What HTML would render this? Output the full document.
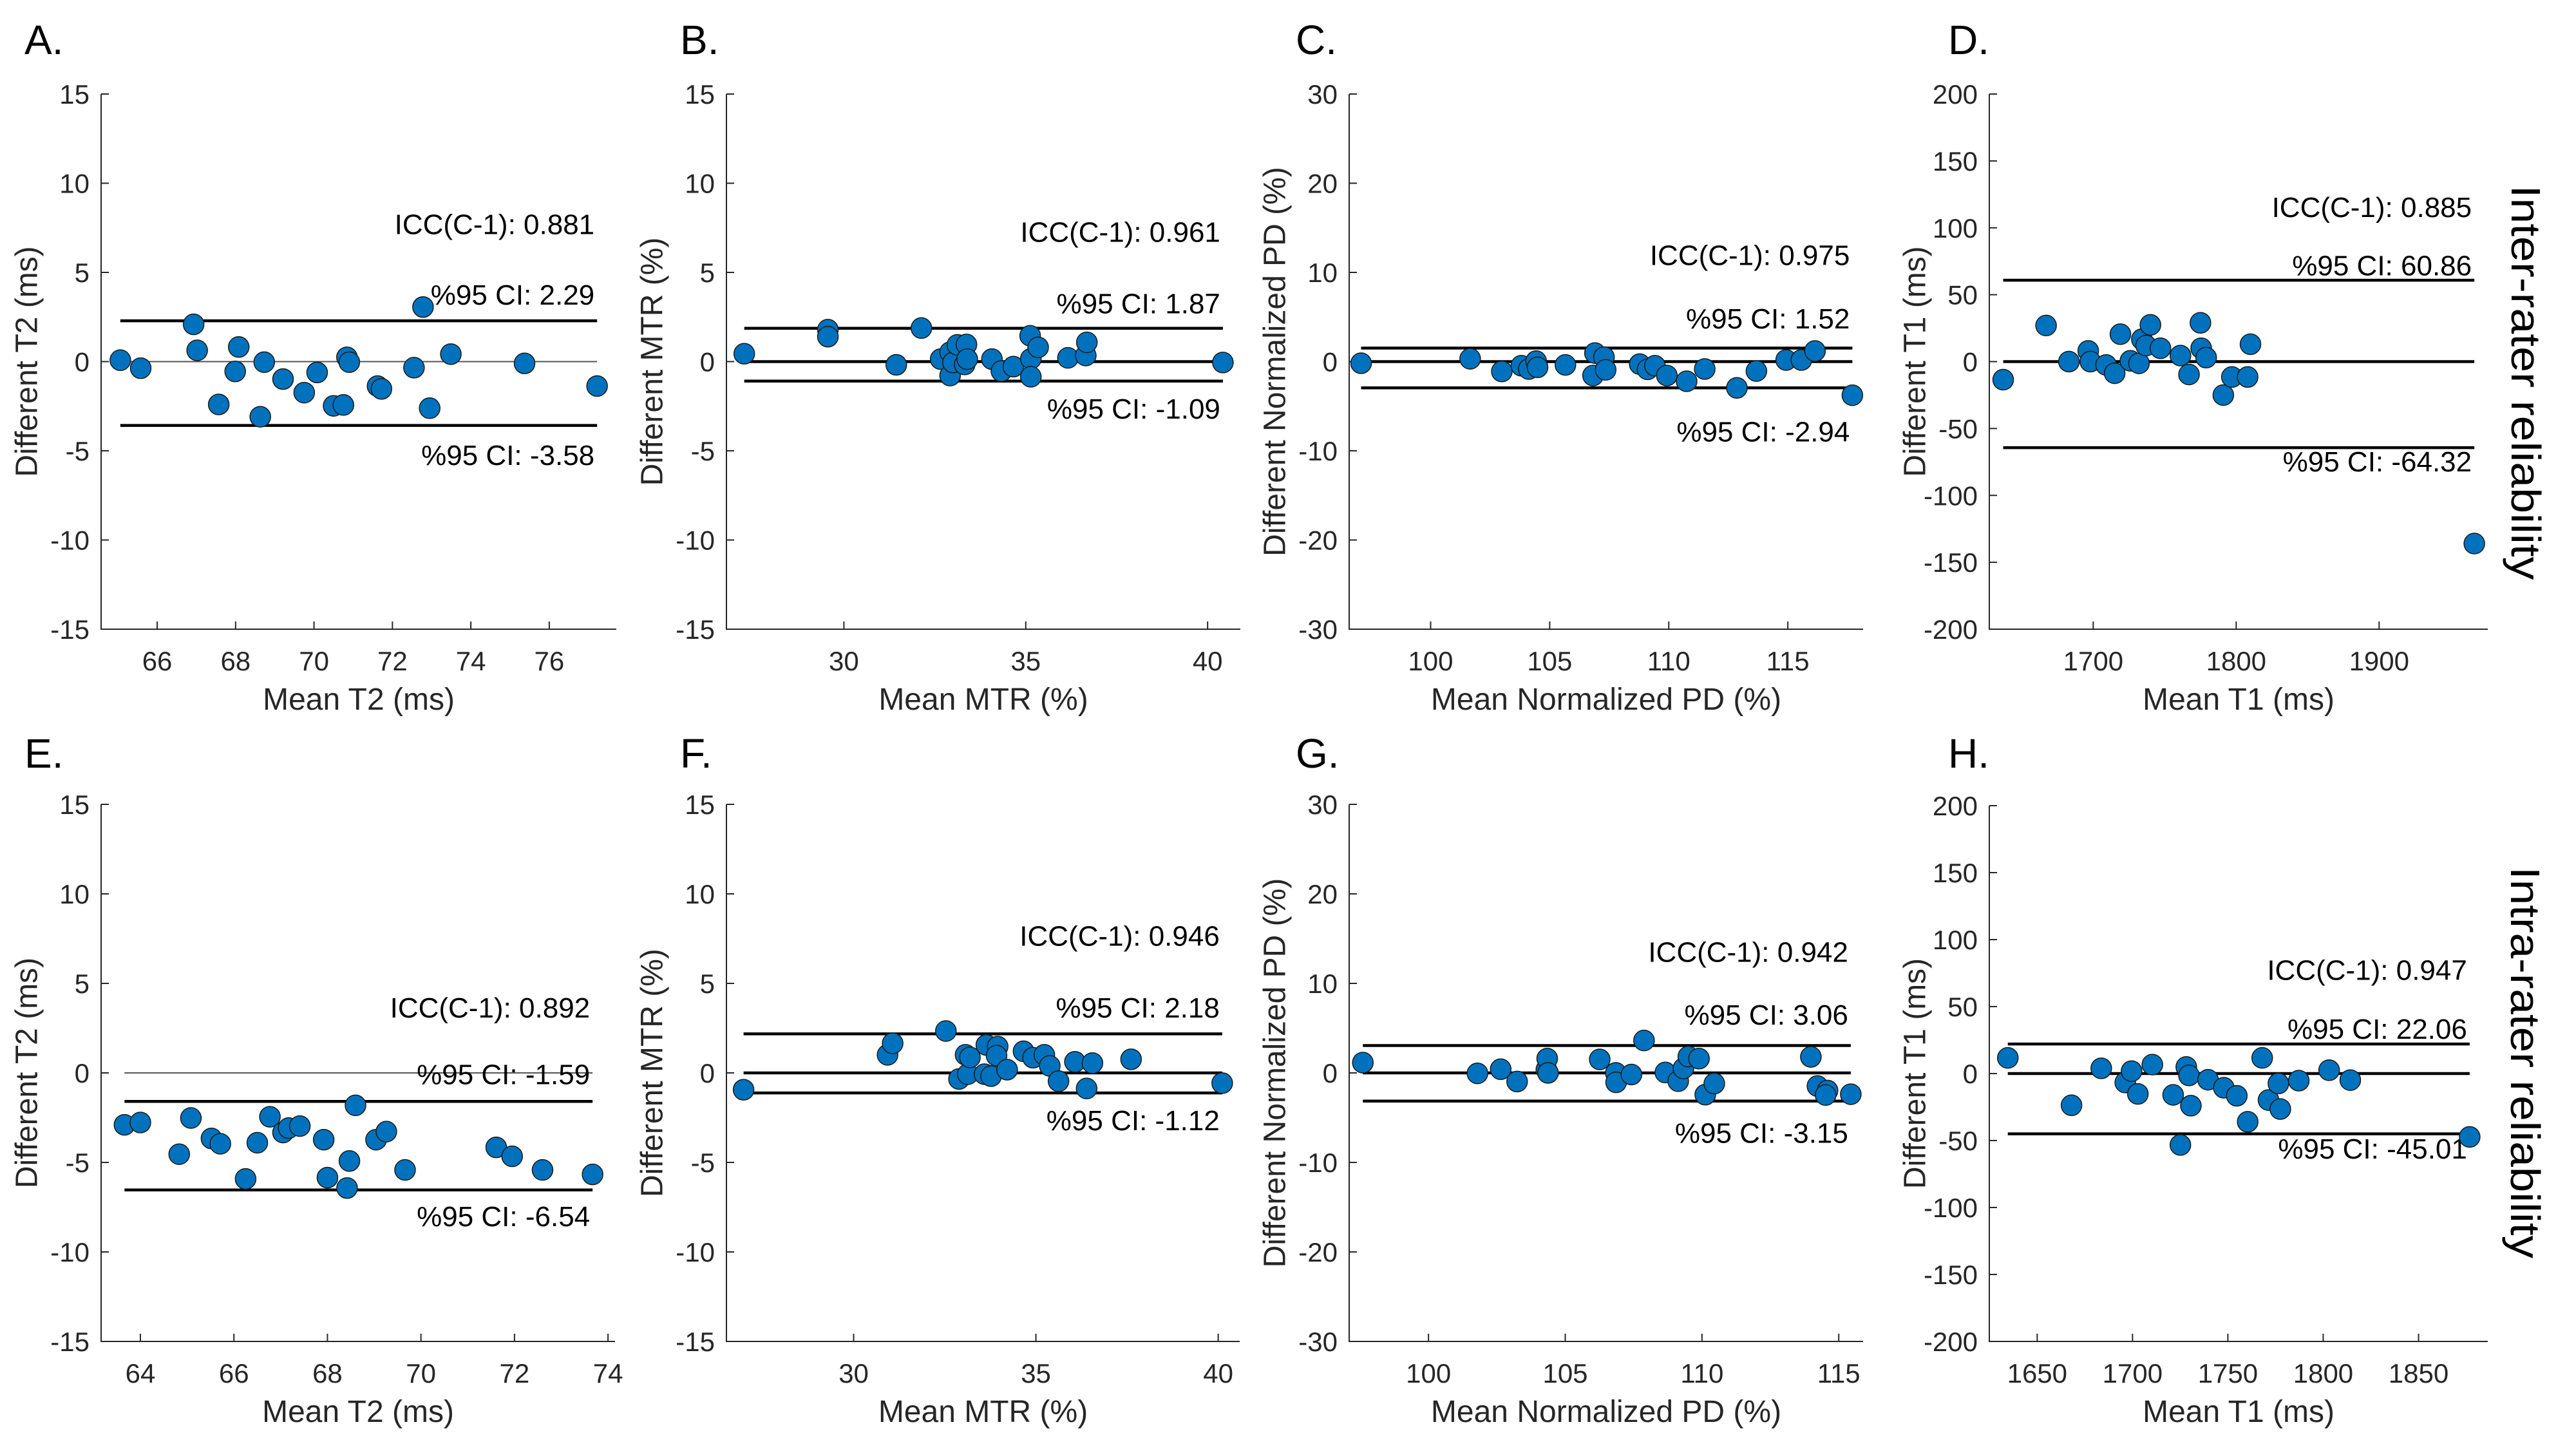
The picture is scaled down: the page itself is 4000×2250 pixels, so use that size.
<!DOCTYPE html>
<html><head><meta charset="utf-8"><style>
html,body{margin:0;padding:0;background:#fff;}
svg{display:block;font-family:"Liberation Sans",Arial,sans-serif;}
</style></head><body>
<svg id="fig" width="4000" height="2250" viewBox="0 0 4000 2250" xmlns="http://www.w3.org/2000/svg">
<rect width="4000" height="2250" fill="#fff"/>
<text x="3922" y="594" font-size="64" text-anchor="middle" dominant-baseline="central" transform="rotate(90 3922 594)" textLength="613" lengthAdjust="spacingAndGlyphs">Inter-rater reliability</text>
<text x="3921" y="1650" font-size="64" text-anchor="middle" dominant-baseline="central" transform="rotate(90 3921 1650)" textLength="608" lengthAdjust="spacingAndGlyphs">Intra-rater reliability</text>
</svg>
<script>
// ---- Data arrays ----
const aX=[65.06,65.58,66.93,67.02,67.57,67.99,68.08,68.63,68.73,69.21,69.75,70.08,70.5,70.75,70.84,70.9,71.62,71.72,72.55,72.78,72.95,73.49,75.37,77.22];
const aY=[0.08,-0.37,2.09,0.63,-2.4,-0.55,0.82,-3.09,-0.03,-0.98,-1.74,-0.61,-2.48,-2.43,0.24,-0.03,-1.37,-1.53,-0.34,3.06,-2.61,0.42,-0.1,-1.37];
const bX=[27.26,29.56,29.56,31.44,32.13,32.66,32.92,32.92,33.0,33.12,33.37,33.32,33.39,34.07,34.33,34.66,35.12,35.14,35.14,35.34,36.16,36.65,36.68,40.42];
const bY=[0.44,1.79,1.4,-0.18,1.88,0.14,0.53,-0.78,-0.05,0.94,0.96,-0.16,0.14,0.14,-0.53,-0.28,1.45,0.16,-0.85,0.8,0.21,0.34,1.08,-0.05];
const cX=[97.08,101.66,102.99,103.81,104.12,104.43,104.49,105.66,106.82,106.9,107.28,107.35,108.78,109.11,109.42,109.92,110.75,111.51,112.86,113.68,114.93,115.57,116.14,117.71];
const cY=[-0.18,0.32,-1.1,-0.46,-0.83,0.05,-0.64,-0.37,-1.56,0.96,0.5,-0.92,-0.28,-0.87,-0.46,-1.56,-2.2,-0.83,-2.94,-1.06,0.18,0.18,1.19,-3.77];
const dX=[1637,1667,1683,1696.5,1698,1709,1715,1719,1726,1732,1734,1737,1740,1747,1761,1767,1775,1775.5,1779,1791,1797,1808,1810,1966.6];
const dY=[-13.5,27,0,8,0,-2.5,-8.7,20.5,0.6,-1.3,16.7,12,27.5,10,4.5,-9.6,29,10,3,-25,-11.5,-11.5,13,-136];
const eX=[63.66,64.0,64.83,65.08,65.52,65.71,66.25,66.5,66.77,67.05,67.17,67.41,67.92,68.0,68.42,68.47,68.6,69.04,69.26,69.66,71.61,71.95,72.6,73.67];
const eY=[-2.9,-2.77,-4.54,-2.52,-3.66,-3.96,-5.92,-3.9,-2.45,-3.33,-3.08,-2.97,-3.73,-5.85,-6.43,-4.92,-1.81,-3.73,-3.28,-5.42,-4.16,-4.66,-5.42,-5.67];
const fX=[26.98,30.93,31.07,32.53,32.89,33.07,33.13,33.19,33.64,33.59,33.77,33.95,33.92,34.21,34.66,34.92,35.23,35.38,35.62,36.07,36.39,36.55,37.61,40.11];
const fY=[-0.94,1.01,1.65,2.34,-0.34,1.01,-0.07,0.87,1.56,-0.07,-0.18,1.47,0.96,0.18,1.21,0.85,1.01,0.39,-0.46,0.62,-0.87,0.55,0.76,-0.57];
const gX=[97.6,101.79,102.64,103.24,104.31,104.34,104.37,106.26,106.85,106.86,107.42,107.88,108.66,109.13,109.32,109.5,109.89,110.12,110.45,113.98,114.22,114.59,114.52,115.44];
const gY=[1.15,-0.05,0.41,-0.96,0.37,1.6,0,1.51,0,-1.05,-0.18,3.62,0.05,-0.92,0.5,1.83,1.6,-2.43,-1.19,1.79,-1.47,-1.97,-2.47,-2.38];
const hX=[1634.6,1668,1683.6,1696.2,1699.5,1702.8,1710.4,1721.3,1725.1,1728.2,1729.6,1730.6,1739.6,1747.9,1754.7,1760.4,1768,1771.3,1776.5,1777.5,1787.2,1803.1,1814.2,1876.8];
const hY=[11.7,-23.7,3.9,-6.7,1.8,-15.2,6.7,-15.9,-53.3,4.9,-1.4,-24,-4.6,-10.6,-16.6,-36,11.7,-19.8,-7.4,-26.5,-5.3,2.5,-4.9,-47.3];
// limits of agreement (upper, lower) and ICC values
const upperCI=[2.29,1.87,1.52,60.86,-1.59,2.18,3.06,22.06];
const lowerCI=[-3.58,-1.09,-2.94,-64.32,-6.54,-1.12,-3.15,-45.01];
const iccVals=["0.881","0.961","0.975","0.885","0.892","0.946","0.942","0.947"];
const upperLabels=["2.29","1.87","1.52","60.86","-1.59","2.18","3.06","22.06"];
const lowerLabels=["-3.58","-1.09","-2.94","-64.32","-6.54","-1.12","-3.15","-45.01"];
// tick label arrays
const xTicksA=[66,68,70,72,74,76];
const xTicksMTR=[30,35,40];
const xTicksPD=[100,105,110,115];
const xTicksD=[1700,1800,1900];
const xTicksE=[64,66,68,70,72,74];
const xTicksH=[1650,1700,1750,1800,1850];
const yTicks15=[-15,-10,-5,0,5,10,15];
const yTicks30=[-30,-20,-10,0,10,20,30];
const yTicks200=[-200,-150,-100,-50,0,50,100,150,200];

const NS="http://www.w3.org/2000/svg";
const svg=document.getElementById('fig');
function mk(tag,attrs,parent){const e=document.createElementNS(NS,tag);for(const k in attrs)e.setAttribute(k,attrs[k]);(parent||svg).appendChild(e);return e;}

const panels=[
 {id:'a',L:'A.',lx:38,ly:84,box:[157,957,146,977],xl:[64.57,77.71],yl:[-15,15],xt:xTicksA,yt:yTicks15,X:aX,Y:aY,xlab:'Mean T2 (ms)',ylab:'Different T2 (ms)',gray:true,ty:[7.15,3.2,-5.8]},
 {id:'b',L:'B.',lx:1056,ly:84,box:[1128,1926,146,977],xl:[26.77,40.9],yl:[-15,15],xt:xTicksMTR,yt:yTicks15,X:bX,Y:bY,xlab:'Mean MTR (%)',ylab:'Different MTR (%)',gray:false,ty:[6.72,2.71,-3.19]},
 {id:'c',L:'C.',lx:2012,ly:84,box:[2095,2893,146,977],xl:[96.58,118.16],yl:[-30,30],xt:xTicksPD,yt:yTicks30,X:cX,Y:cY,xlab:'Mean Normalized PD (%)',ylab:'Different Normalized PD (%)',gray:false,ty:[10.84,3.72,-8.96]},
 {id:'d',L:'D.',lx:3025,ly:84,box:[3089,3863,146,977],xl:[1627.3,1976],yl:[-200,200],xt:xTicksD,yt:yTicks200,X:dX,Y:dY,xlab:'Mean T1 (ms)',ylab:'Different T1 (ms)',gray:false,ty:[108,64.4,-82]},
 {id:'e',L:'E.',lx:38,ly:1192,box:[157,955,1249,2083],xl:[63.16,74.15],yl:[-15,15],xt:xTicksE,yt:yTicks15,X:eX,Y:eY,xlab:'Mean T2 (ms)',ylab:'Different T2 (ms)',gray:true,ty:[3.1,-0.63,-8.57]},
 {id:'f',L:'F.',lx:1056,ly:1192,box:[1128,1925,1249,2083],xl:[26.51,40.59],yl:[-15,15],xt:xTicksMTR,yt:yTicks15,X:fX,Y:fY,xlab:'Mean MTR (%)',ylab:'Different MTR (%)',gray:false,ty:[7.1,3.09,-3.21]},
 {id:'g',L:'G.',lx:2012,ly:1192,box:[2095,2893,1249,2083],xl:[97.1,115.89],yl:[-30,30],xt:xTicksPD,yt:yTicks30,X:gX,Y:gY,xlab:'Mean Normalized PD (%)',ylab:'Different Normalized PD (%)',gray:false,ty:[12.4,5.4,-7.8]},
 {id:'h',L:'H.',lx:3025,ly:1192,box:[3089,3863,1251,2083],xl:[1624.9,1886.3],yl:[-200,200],xt:xTicksH,yt:yTicks200,X:hX,Y:hY,xlab:'Mean T1 (ms)',ylab:'Different T1 (ms)',gray:false,ty:[70,26,-63.5]}
];

panels.forEach((p,i)=>{
  const [x0,x1,y0,y1]=p.box;
  const sx=v=>x0+(v-p.xl[0])/(p.xl[1]-p.xl[0])*(x1-x0);
  const sy=v=>y1-(v-p.yl[0])/(p.yl[1]-p.yl[0])*(y1-y0);
  const g=mk('g',{});
  
  
  const pl=mk('text',{x:p.lx,y:p.ly,'font-size':64,fill:'#000'},g);pl.textContent=p.L;
  
  
  const ax=mk('path',{d:`M${x0},${y0}V${y1}H${x1}`,stroke:'#262626','stroke-width':2,fill:'none'},g);
  
  
  p.yt.forEach(v=>{
    const y=sy(v);
    mk('line',{x1:x0,x2:x0+12,y1:y,y2:y,stroke:'#262626','stroke-width':2},g);
    const t=mk('text',{x:x0-18,y:y+15,'font-size':42,'text-anchor':'end',fill:'#262626'},g);t.textContent=v;
    
    
  });
  p.xt.forEach(v=>{
    const x=sx(v);
    mk('line',{x1:x,x2:x,y1:y1,y2:y1-12,stroke:'#262626','stroke-width':2},g);
    const t=mk('text',{x:x,y:y1+64,'font-size':42,'text-anchor':'middle',fill:'#262626'},g);t.textContent=v;
    
    
  });
  const xl=mk('text',{x:(x0+x1)/2,y:y1+125,'font-size':48,'text-anchor':'middle',fill:'#262626'},g);xl.textContent=p.xlab;
  
  
  const cx=x0-115,cy=(y0+y1)/2;
  const yl=mk('text',{x:cx,y:cy,'font-size':48,'text-anchor':'middle','dominant-baseline':'central',transform:`rotate(-90 ${cx} ${cy})`,fill:'#262626'},g);yl.textContent=p.ylab;
  
  
  const xmin=Math.min(...p.X),xmax=Math.max(...p.X);
  const zl=mk('line',{x1:sx(xmin),x2:sx(xmax),y1:sy(0),y2:sy(0),stroke:p.gray?'#555':'#000','stroke-width':p.gray?2:4.5},g);
  
  
  const ul=mk('line',{x1:sx(xmin),x2:sx(xmax),y1:sy(upperCI[i]),y2:sy(upperCI[i]),stroke:'#000','stroke-width':4.5},g);
  
  
  const ll=mk('line',{x1:sx(xmin),x2:sx(xmax),y1:sy(lowerCI[i]),y2:sy(lowerCI[i]),stroke:'#000','stroke-width':4.5},g);
  
  
  const tx=sx(xmax)-4;
  const t1=mk('text',{x:tx,y:sy(p.ty[0]),'font-size':44,'text-anchor':'end',fill:'#000'},g);t1.textContent='ICC(C-1): '+iccVals[i];
  
  
  const t2=mk('text',{x:tx,y:sy(p.ty[1]),'font-size':44,'text-anchor':'end',fill:'#000'},g);t2.textContent='%95 CI: '+upperLabels[i];
  
  
  const t3=mk('text',{x:tx,y:sy(p.ty[2]),'font-size':44,'text-anchor':'end',fill:'#000'},g);t3.textContent='%95 CI: '+lowerLabels[i];
  
  
  p.X.forEach((xv,k)=>{
    const c=mk('circle',{cx:sx(xv),cy:sy(p.Y[k]),r:16,fill:'#0072BD',stroke:'#1a1a1a','stroke-width':1.5},g);
    
    
  });
});
</script>
</body></html>
